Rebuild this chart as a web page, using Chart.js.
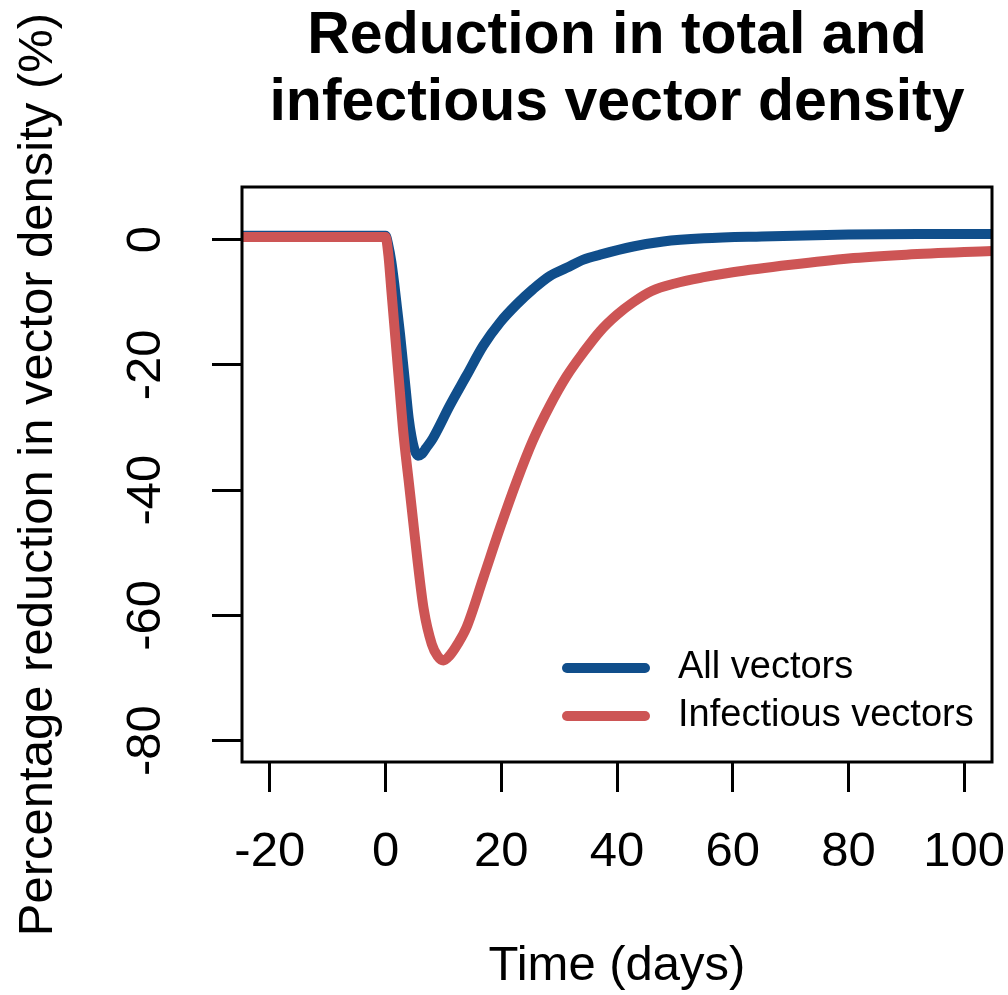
<!DOCTYPE html>
<html>
<head>
<meta charset="utf-8">
<script src="https://cdn.jsdelivr.net/npm/chart.js@4"></script>
<style>
  html, body { margin: 0; padding: 0; background: #fff; }
  .chart-wrapper { width: 1008px; height: 995px; position: relative; }
</style>
</head>
<body>
<div class="chart-wrapper">
  <canvas id="vector-chart"></canvas>
</div>
<script>
// values
const seriesLabels = ['All vectors', 'Infectious vectors'];

const allDays = [-25, -10, 0, 0.5, 1, 1.5, 2, 2.5, 3, 3.5, 4, 4.5, 5, 5.6, 6.3, 7, 8.2,
  11.1, 14, 16.9, 19.8, 22.7, 25.5, 28.4, 31.3, 34.2, 37.1, 42.8, 48, 55, 65, 80, 92, 105];
const allVectors = [0.6, 0.6, 0.6, -1, -3.5, -7, -11, -15, -19.5, -24, -28.5, -31.5, -33.5, -34.5, -34.2, -33.3, -31.7,
  -26.5, -21.7, -16.9, -13.2, -10.3, -7.9, -5.8, -4.5, -3.2, -2.4, -1.1, -0.3, 0.2, 0.5, 0.8, 0.9, 0.9];

const infectiousDays = [-25, -10, 0, 0.5, 1, 1.5, 2, 2.5, 3, 3.5, 4, 4.6, 5.5, 6.6, 8, 9, 10, 11, 12.5,
  14, 16.9, 19.8, 22.7, 25.5, 28.4, 31.3, 34.2, 37.1, 40, 42.8, 46, 50, 55, 60, 70, 80, 90, 105];
const infectiousVectors = [0.4, 0.4, 0.4, -2.5, -8, -13.5, -19, -24.5, -30, -34.5, -38.5, -43.5, -51, -59, -64.6, -66.5, -67.2, -66.5, -64.5,
  -61.9, -54, -46, -38.5, -32, -26.5, -21.8, -18, -14.6, -12, -10, -8.2, -7, -6, -5.2, -4, -3, -2.4, -1.8];

const xTicks = [-20, 0, 20, 40, 60, 80, 100];
const yTicks = [-80, -60, -40, -20, 0];

const FONT = "'Liberation Sans', Arial, Helvetica, sans-serif";
const BLUE = '#104E8B';
const RED = '#CD5555';

Chart.defaults.font.family = FONT;
Chart.defaults.color = '#000';

const toPoints = (days, values) => days.map((d, i) => ({ x: d, y: values[i] }));

// box round the plot, rotated y labels and the legend, drawn R-style
const rStyle = {
  id: 'rStyle',
  afterDraw(chart) {
    const { ctx, chartArea: area, scales: { y } } = chart;
    ctx.save();

    ctx.lineWidth = 3;
    ctx.strokeStyle = '#000';
    ctx.strokeRect(area.left, area.top, area.right - area.left, area.bottom - area.top);

    ctx.font = `49px ${FONT}`;
    ctx.fillStyle = '#000';
    ctx.textAlign = 'center';
    ctx.textBaseline = 'middle';
    y.ticks.forEach((tick) => {
      ctx.save();
      ctx.translate(y.right - 96, y.getPixelForValue(tick.value));
      ctx.rotate(-Math.PI / 2);
      ctx.fillText(String(tick.value), 0, 0);
      ctx.restore();
    });

    ctx.font = `38px ${FONT}`;
    ctx.textAlign = 'left';
    ctx.lineCap = 'round';
    ctx.lineWidth = 10;
    chart.data.datasets.forEach((ds, i) => {
      const rowY = area.bottom - 94 + i * 48;
      ctx.strokeStyle = ds.borderColor;
      ctx.beginPath();
      ctx.moveTo(area.right - 425, rowY);
      ctx.lineTo(area.right - 347, rowY);
      ctx.stroke();
      ctx.fillText(ds.label, area.right - 314, rowY);
    });

    ctx.restore();
  },
};

const tickGrid = {
  display: true,
  drawOnChartArea: false,
  drawTicks: true,
  tickLength: 30,
  tickWidth: 3,
  tickColor: '#000',
};

const chart = new Chart(document.getElementById('vector-chart'), {
  type: 'line',
  data: {
    datasets: [
      {
        label: seriesLabels[0],
        data: toPoints(allDays, allVectors),
        borderColor: BLUE,
        order: 2,
      },
      {
        label: seriesLabels[1],
        data: toPoints(infectiousDays, infectiousVectors),
        borderColor: RED,
        order: 1,
      },
    ],
  },
  options: {
    responsive: true,
    maintainAspectRatio: false,
    animation: false,
    events: [],
    datasets: {
      line: {
        borderWidth: 10,
        pointRadius: 0,
        fill: false,
        cubicInterpolationMode: 'monotone',
        borderCapStyle: 'round',
        borderJoinStyle: 'round',
      },
    },
    layout: {
      padding: { top: 0, right: 16, bottom: 0, left: 0 },
    },
    scales: {
      x: {
        type: 'linear',
        min: -24.8,
        max: 104.8,
        afterBuildTicks: (scale) => { scale.ticks = xTicks.map((v) => ({ value: v })); },
        afterFit: (scale) => { scale.height = 233; },
        grid: tickGrid,
        border: { display: false },
        ticks: {
          padding: 0,
          autoSkip: false,
          maxRotation: 0,
          font: { size: 49, lineHeight: '120px' },
          callback: (v) => String(v),
        },
        title: {
          display: true,
          text: 'Time (days)',
          font: { size: 49, lineHeight: 1 },
          padding: { top: 0, bottom: 4 },
        },
      },
      y: {
        type: 'linear',
        min: -83.4,
        max: 8.4,
        afterBuildTicks: (scale) => { scale.ticks = yTicks.map((v) => ({ value: v })); },
        afterFit: (scale) => { scale.width = 242; },
        grid: tickGrid,
        border: { display: false },
        ticks: { display: false },
        title: {
          display: true,
          text: 'Percentage reduction in vector density (%)',
          font: { size: 49, lineHeight: 1 },
          padding: { top: 14, bottom: 0 },
        },
      },
    },
    plugins: {
      legend: { display: false },
      tooltip: { enabled: false },
      title: {
        display: true,
        fullSize: false,
        text: ['Reduction in total and', 'infectious vector density'],
        font: { size: 59, weight: 'bold', lineHeight: '67px' },
        padding: { top: 3, bottom: 50 },
      },
    },
  },
  plugins: [rStyle],
});
</script>
</body>
</html>
